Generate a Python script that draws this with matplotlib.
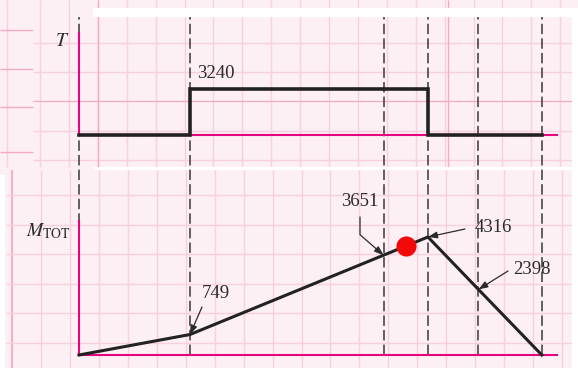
"""
Torque and total bending moment diagrams along a shaft,
drawn over a pink engineering-paper grid.
"""

import matplotlib
matplotlib.use('Agg')
import matplotlib.pyplot as plt
from matplotlib.patches import Rectangle

W, H = 578, 368

# Shaft stations (in) where loads/sections change
stations = [0.0, 3.8, 10.43, 11.95, 13.68, 15.85]

# Torque diagram (lb-in)
torque_x = [0.0, 3.8, 11.95, 15.85]
torque = [0, 3240, 0, 0]

# Total bending moment at each station (lb-in)
moment = [0, 749, 3651, 4316, 2398, 0]

# Critical point marked on the moment curve
dot_x, dot_m = 11.2, 3990

PAPER = '#fdf0f5'
GRID = '#f8cfe0'
GRID_DARK = '#f3a9c7'
AXIS = '#e5067f'
INK = '#222222'
TEXT = '#2a2a2a'

plt.rcParams['font.family'] = ['Liberation Serif', 'DejaVu Serif']
plt.rcParams['mathtext.fontset'] = 'stix'
plt.rcParams['lines.scale_dashes'] = False


def px_box(left, top, right, bottom):
    """Axes rectangle in figure fractions from pixel edges."""
    return [left / W, 1 - bottom / H, (right - left) / W, (bottom - top) / H]


def draw_paper(bg):
    """Pink graph-paper background in pixel coordinates."""
    bg.set_xlim(0, W)
    bg.set_ylim(H, 0)
    bg.axis('off')

    # upper sheet
    xs = [40 + 28.9 * k for k in range(19)]
    bg.vlines(xs, 0, 167, color=GRID, lw=1.0)
    bg.hlines([43, 72, 101, 131, 160], 33, 572, color=GRID, lw=1.0)
    bg.vlines([98, 448], 0, 167, color=GRID_DARK, lw=1.0)
    bg.hlines([101], 33, 572, color=GRID_DARK, lw=0.8)

    # narrow strip on the left of the upper sheet
    bg.add_patch(Rectangle((0, 0), 33, 167, color=PAPER, zorder=1.5))
    bg.vlines([7], 0, 167, color=GRID, lw=1.0, zorder=1.6)
    bg.hlines([30, 69, 107, 152], 0, 33, color=GRID_DARK, lw=1.0, zorder=1.6)

    # lower sheet
    xs = [12 + 28.95 * k for k in range(20)]
    bg.vlines(xs, 170, H, color=GRID, lw=1.0)
    bg.vlines([12], 170, H, color=GRID_DARK, lw=1.2)
    bg.hlines([195 + 29.6 * k for k in range(6)], 6, 572, color=GRID, lw=1.0)

    # white gaps between the sheets
    for x0, y0, w, h in [(93, 8, W - 93, 9), (93, 167, W - 93, 3),
                         (572, 8, 6, H - 8), (0, 175, 5, H - 175)]:
        bg.add_patch(Rectangle((x0, y0), w, h, color='white', lw=0, zorder=2))


def style_axes(ax, xmax, ymax):
    ax.set_xlim(0, xmax)
    ax.set_ylim(0, ymax)
    ax.set_facecolor('none')
    for side in ('top', 'right'):
        ax.spines[side].set_visible(False)
    for side in ('left', 'bottom'):
        ax.spines[side].set_color(AXIS)
        ax.spines[side].set_linewidth(1.5)
        ax.spines[side].set_zorder(3)
    ax.set_xticks([])
    ax.set_yticks([])


fig = plt.figure(figsize=(W / 100, H / 100), dpi=100, facecolor=PAPER)

bg = fig.add_axes([0, 0, 1, 1])
draw_paper(bg)

px_per_in = 29.2
xmax = (557 - 79) / px_per_in

# moment diagram
ax_m = fig.add_axes(px_box(79, 221, 557, 355))
style_axes(ax_m, xmax, 4316 * 134 / 118)

# torque diagram
ax_t = fig.add_axes(px_box(79, 33, 557, 135))
style_axes(ax_t, xmax, 3240 * 102 / 46)

# section lines through both diagrams
top_frac = (355 - 17) / 134
for x in stations:
    ax_m.plot([x, x], [0, top_frac], transform=ax_m.get_xaxis_transform(),
              color='#383838', lw=1.1, dashes=(7.5, 3), clip_on=False, zorder=1)

ax_t.step(torque_x, torque, where='post', color=INK, lw=2.6,
          solid_joinstyle='miter', clip_on=False, zorder=4)
ax_m.plot(stations, moment, color=INK, lw=2.2, clip_on=False, zorder=4)
ax_m.plot([dot_x], [dot_m], 'o', color='#f20a0a', ms=14.5, mec='none', zorder=5)

# value labels (text centre, arrow tail) in pixel coordinates
label_text = {3240: (216, 74)}
arrow_specs = {
    749: ((216, 293), (202, 307), 'arc3,rad=0'),
    3651: ((360, 201), (360, 217), 'angle,angleA=90,angleB=-41,rad=0'),
    4316: ((493, 228), (465, 229), 'arc3,rad=0'),
    2398: ((532, 270), (508, 271), 'arc3,rad=0'),
}

for val, (tx, ty) in label_text.items():
    bg.text(tx, ty, f'{val}', ha='center', va='center', fontsize=13.5,
            color=TEXT, zorder=6)

for x, m in zip(stations, moment):
    if m not in arrow_specs:
        continue
    (tx, ty), (sx, sy), conn = arrow_specs[m]
    bg.text(tx, ty, f'{m}', ha='center', va='center', fontsize=13.5,
            color=TEXT, zorder=6)
    ax_m.annotate('', xy=(x, m), xytext=(sx, sy), textcoords=bg.transData,
                  arrowprops=dict(arrowstyle='-|>,head_length=0.55,head_width=0.2',
                                  mutation_scale=10, lw=0.9, color=TEXT,
                                  shrinkA=0, shrinkB=0, connectionstyle=conn),
                  annotation_clip=False, zorder=6)

bg.text(62, 42, r'$T$', ha='center', va='center', fontsize=14, color=TEXT, zorder=6)
bg.text(48, 231, r'$M_{\mathrm{TOT}}$', ha='center', va='center', fontsize=14,
        color=TEXT, zorder=6)

fig.savefig('out.png', dpi=100, facecolor=fig.get_facecolor())
